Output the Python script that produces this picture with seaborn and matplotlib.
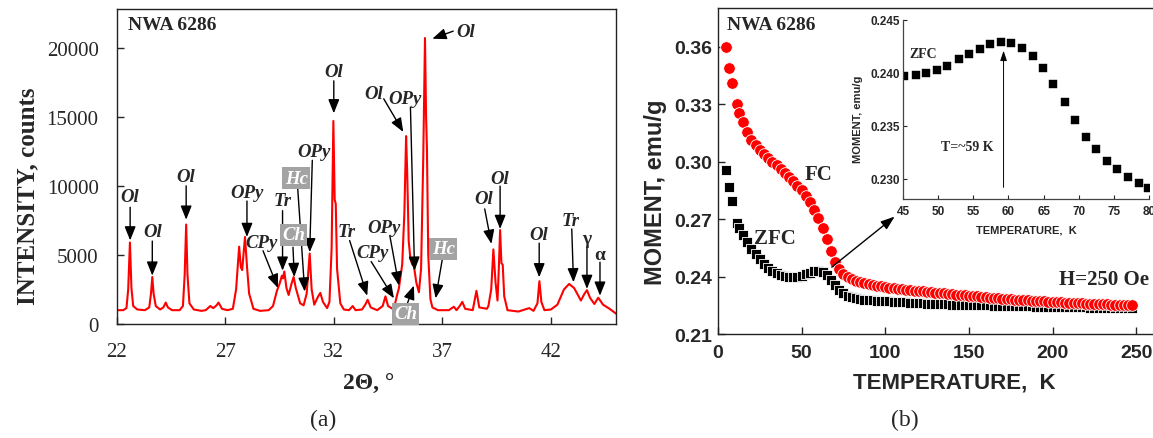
import matplotlib
matplotlib.use("Agg")
import matplotlib.pyplot as plt
import numpy as np
import pandas as pd
import seaborn as sns

# ---------------- data: panel (a) XRD pattern ----------------
two_theta = [
    22.00, 22.30, 22.45, 22.53, 22.61, 22.68, 22.76, 22.95, 23.30, 23.50,
    23.58, 23.64, 23.70, 23.80, 24.00, 24.15, 24.26, 24.36, 24.55, 24.90,
    25.05, 25.13, 25.20, 25.26, 25.35, 25.55, 25.90, 26.10, 26.31, 26.45,
    26.60, 26.69, 26.85, 27.10, 27.35, 27.50, 27.64, 27.72, 27.78, 27.91,
    28.00, 28.10, 28.30, 28.60, 29.00, 29.20, 29.38, 29.50, 29.61, 29.66,
    29.72, 29.82, 29.92, 30.05, 30.15, 30.25, 30.45, 30.61, 30.75, 30.89,
    30.98, 31.10, 31.28, 31.38, 31.50, 31.69, 31.80, 31.90, 31.98, 32.04,
    32.09, 32.15, 32.30, 32.46, 32.70, 32.87, 33.00, 33.30, 33.45, 33.56,
    33.70, 34.00, 34.25, 34.38, 34.50, 34.76, 34.90, 35.00, 35.15, 35.25,
    35.33, 35.38, 35.45, 35.53, 35.62, 35.69, 35.80, 35.92, 36.02, 36.12,
    36.20, 36.25, 36.29, 36.35, 36.45, 36.54, 36.80, 37.30, 37.53, 37.65,
    37.80, 37.92, 38.05, 38.40, 38.57, 38.70, 39.05, 39.12, 39.25, 39.35,
    39.45, 39.54, 39.60, 39.66, 39.72, 39.78, 39.85, 40.00, 40.50, 41.00,
    41.20, 41.38, 41.47, 41.56, 41.70, 42.00, 42.30, 42.60, 42.84, 43.07,
    43.38, 43.55, 43.66, 43.80, 44.00, 44.18, 44.40, 44.70, 45.00,
]
intensity = [
    1000, 1000, 1150, 2500, 5900, 2600, 1300, 1050, 1000, 1200,
    2200, 3400, 2200, 1300, 1050, 1200, 1550, 1200, 1000, 1000,
    1300, 3500, 7200, 3600, 1500, 1050, 950, 1000, 1300, 1150,
    1350, 1550, 1100, 1000, 1100, 2500, 5600, 4100, 3900, 6300,
    4200, 2200, 1100, 950, 1000, 1300, 2400, 2900, 3500, 3300,
    3800, 2600, 2100, 2900, 3400, 2600, 1500, 1350, 2200, 5100,
    2500, 1400, 2000, 2250, 1600, 1150, 1600, 5500, 14700, 9000,
    8700, 4000, 1500, 1050, 1000, 1300, 1000, 1050, 1400, 1750,
    1200, 1000, 1300, 2000, 1300, 1050, 2000, 2600, 4300, 8000,
    13600, 11000, 6000, 4700, 4300, 4200, 3000, 2300, 4000, 12000,
    20700, 15000, 12700, 5000, 1800, 1200, 1000, 1000, 1250, 1000,
    1300, 1600, 1100, 1000, 2400, 1200, 1100, 1300, 2500, 5400,
    3000, 1700, 4000, 6800, 4400, 4300, 2000, 1000, 900, 1150,
    950, 1500, 3100, 1600, 1000, 1050, 1400, 2500, 2900, 2600,
    1700, 2200, 2450, 1900, 1450, 1900, 1400, 1100, 750,
]
xrd_xticks = [22, 27, 32, 37, 42]
xrd_yticks = [0, 5000, 10000, 15000, 20000]

# phase labels: text, label position, arrow start, arrow end, grey box?
xrd_labels = [
    ("Ol",  (22.62, 9200),  (22.62, 8450),  (22.62, 6050), False),
    ("Ol",  (23.64, 6700),  (23.64, 6000),  (23.64, 3500), False),
    ("Ol",  (25.20, 10650), (25.20, 10000), (25.20, 7550), False),
    ("OPy", (28.00, 9550),  (28.00, 8900),  (28.00, 6300), False),
    ("CPy", (28.69, 5920),  (28.74, 5300),  (29.43, 2600), False),
    ("Tr",  (29.64, 8930),  (29.64, 8200),  (29.64, 3860), False),
    ("Hc",  (30.27, 10560), (30.33, 10000), (30.66, 2350), True),
    ("Ch",  (30.14, 6450),  (30.12, 5560),  (30.18, 3400), True),
    ("OPy", (31.10, 12450), (31.01, 11850), (30.89, 5200), False),
    ("Ol",  (32.00, 18250), (32.00, 17600), (32.00, 15250), False),
    ("Ol",  (33.84, 16680), (34.30, 16300), (35.20, 13900), False),
    ("OPy", (35.30, 16350), (35.53, 15700), (35.72, 3860), False),
    ("Ol",  (38.07, 21200), (37.50, 21200), (36.54, 20650), False),
    ("Tr",  (32.61, 6700),  (32.73, 6040),  (33.54, 2050), False),
    ("CPy", (33.77, 5200),  (33.72, 4520),  (34.77, 1860), False),
    ("OPy", (34.30, 7000),  (34.58, 6400),  (35.00, 2780), False),
    ("Ch",  (35.30, 730),   (35.38, 1450),  (35.69, 2780), True),
    ("Hc",  (37.04, 5430),  (37.00, 4710),  (36.69, 1860), True),
    ("Ol",  (38.92, 9060),  (38.95, 8330),  (39.26, 5800), False),
    ("Ol",  (39.66, 10560), (39.66, 9980),  (39.66, 6880), False),
    ("Ol",  (41.46, 6450),  (41.46, 5850),  (41.46, 3380), False),
    ("Tr",  (42.92, 7490),  (42.96, 6880),  (43.04, 3020), False),
    ("γ",   (43.66, 6160),  (43.66, 5560),  (43.66, 2540), False),
    ("α",   (44.26, 5000),  (44.26, 4470),  (44.26, 2050), False),
]

# ---------------- data: panel (b) magnetic moment ----------------
temperature = [
    4.8, 6.8, 8.2, 11.2, 12.5, 15, 17.5, 20, 22.5, 25,
    27.5, 30, 32.5, 35, 37.5, 40, 42.5, 45, 47.5, 50,
    52.5, 55, 57.5, 60, 62.5, 65, 67.5, 70, 72.5, 75,
    77.5, 80, 82.5, 85, 87.5, 90, 92.5, 95, 97.5, 100,
    102.5, 105, 107.5, 110, 112.5, 115, 117.5, 120, 122.5, 125,
    127.5, 130, 132.5, 135, 137.5, 140, 142.5, 145, 147.5, 150,
    152.5, 155, 157.5, 160, 162.5, 165, 167.5, 170, 172.5, 175,
    177.5, 180, 182.5, 185, 187.5, 190, 192.5, 195, 197.5, 200,
    202.5, 205, 207.5, 210, 212.5, 215, 217.5, 220, 222.5, 225,
    227.5, 230, 232.5, 235, 237.5, 240, 242.5, 245, 247.5,
]
moment_fc = [
    0.360, 0.349, 0.341, 0.330, 0.3255, 0.3205, 0.3155, 0.3115, 0.3085, 0.306,
    0.304, 0.302, 0.300, 0.298, 0.296, 0.294, 0.292, 0.2898, 0.2875, 0.285,
    0.282, 0.2787, 0.2748, 0.2705, 0.2655, 0.2597, 0.2535, 0.2477, 0.2437, 0.2414,
    0.2400, 0.2389, 0.2379, 0.2371, 0.2364, 0.2359, 0.2355, 0.2351, 0.2348, 0.2345,
    0.2342, 0.2339, 0.2336, 0.2334, 0.2331, 0.2329, 0.2327, 0.2325, 0.2322, 0.2320,
    0.2318, 0.2316, 0.2314, 0.2312, 0.2310, 0.2308, 0.2306, 0.2304, 0.2302, 0.2300,
    0.2298, 0.2296, 0.2294, 0.2292, 0.2290, 0.2288, 0.2286, 0.2285, 0.2283, 0.2281,
    0.2280, 0.2278, 0.2277, 0.2275, 0.2274, 0.2272, 0.2271, 0.2270, 0.2268, 0.2267,
    0.2266, 0.2265, 0.2264, 0.2263, 0.2262, 0.2261, 0.2260, 0.2259, 0.2258, 0.2257,
    0.2256, 0.2256, 0.2255, 0.2254, 0.2254, 0.2253, 0.2253, 0.2252, 0.2252,
]
moment_zfc = [
    0.2954, 0.2867, 0.2792, 0.2680, 0.2655, 0.2617, 0.2578, 0.2545, 0.2516, 0.2490,
    0.2467, 0.2447, 0.2430, 0.2417, 0.2408, 0.2402, 0.2399, 0.2398, 0.2400, 0.2404,
    0.2411, 0.2420, 0.2428, 0.2430, 0.2423, 0.2406, 0.2381, 0.2354, 0.2330, 0.2313,
    0.2300, 0.2291, 0.2286, 0.2282, 0.2279, 0.2277, 0.2275, 0.2274, 0.2272, 0.2271,
    0.2270, 0.2268, 0.2267, 0.2266, 0.2265, 0.2263, 0.2262, 0.2261, 0.2260, 0.2259,
    0.2258, 0.2257, 0.2257, 0.2256, 0.2255, 0.2254, 0.2254, 0.2253, 0.2252, 0.2252,
    0.2251, 0.2250, 0.2250, 0.2249, 0.2249, 0.2248, 0.2248, 0.2247, 0.2247, 0.2246,
    0.2246, 0.2245, 0.2245, 0.2244, 0.2244, 0.2243, 0.2243, 0.2242, 0.2242, 0.2241,
    0.2241, 0.2241, 0.2240, 0.2240, 0.2240, 0.2239, 0.2239, 0.2239, 0.2238, 0.2238,
    0.2238, 0.2237, 0.2237, 0.2237, 0.2236, 0.2236, 0.2236, 0.2236, 0.2235,
]
mag_xticks = [0, 50, 100, 150, 200, 250]
mag_yticks = [0.21, 0.24, 0.27, 0.30, 0.33, 0.36]

inset_temperature = [
    45.2, 46.8, 48.3, 49.8, 51.3, 52.9, 54.4, 55.9, 57.4, 58.9, 60.3, 61.9,
    63.5, 64.9, 66.4, 68.0, 69.5, 71.0, 72.4, 74.0, 75.5, 77.0, 78.5, 79.9,
]
inset_moment = [
    0.2397, 0.2398, 0.2400, 0.2403, 0.2407, 0.2413, 0.2418, 0.2423, 0.2427, 0.2429, 0.2428, 0.2424,
    0.2416, 0.2405, 0.2390, 0.2373, 0.2356, 0.2340, 0.2328, 0.2317, 0.2309, 0.2302, 0.2296, 0.2291,
]
inset_xticks = [45, 50, 55, 60, 65, 70, 75, 80]
inset_yticks = [0.230, 0.235, 0.240, 0.245]

# ---------------- styling ----------------
sns.set_style("ticks")
plt.rcParams["font.family"] = ["Liberation Serif", "DejaVu Serif"]
plt.rcParams["axes.linewidth"] = 1.0
SERIF = ["Liberation Serif", "DejaVu Serif"]
SANS = ["Liberation Sans", "DejaVu Sans"]

fig = plt.figure(figsize=(11.53, 4.39), dpi=100)
fig.patch.set_facecolor("white")

# ---------------- panel (a) ----------------
axa = fig.add_axes([0.1012, 0.2597, 0.4331, 0.7175])
xrd = pd.DataFrame({"two_theta": two_theta, "intensity": intensity})
sns.lineplot(data=xrd, x="two_theta", y="intensity", ax=axa, color="#ff0000",
             linewidth=1.5, sort=False, estimator=None, errorbar=None)
axa.set_xlim(22, 45)
axa.set_ylim(0, 22800)
axa.set_xticks(xrd_xticks)
axa.set_xticklabels([str(v) for v in xrd_xticks], fontfamily=SERIF, fontsize=15)
axa.set_yticks(xrd_yticks)
axa.set_yticklabels([str(v) for v in xrd_yticks], fontfamily=SERIF, fontsize=15)
axa.tick_params(direction="in", length=5, width=1.0, pad=13,
                top=False, right=False)
for s in axa.spines.values():
    s.set_visible(True)
    s.set_color("#222222")
axa.set_xlabel("2Θ, °", family=SERIF, fontweight="bold", fontsize=17)
axa.xaxis.label.set_va("center")
axa.xaxis.set_label_coords(0.505, -0.19)
axa.set_ylabel("INTENSITY, counts", family=SERIF, fontweight="bold", fontsize=18)
axa.yaxis.label.set_va("center")
axa.yaxis.set_label_coords(-0.178, 0.41)
axa.text(0.022, 0.952, "NWA 6286", transform=axa.transAxes, family=SERIF,
         fontweight="bold", fontsize=14, ha="left", va="center")

for txt, tpos, a0, a1, boxed in xrd_labels:
    greek = txt in ("γ", "α")
    kw = dict(family=SERIF, fontweight="bold", fontsize=14 if greek else 13.5,
              style="normal" if greek else "italic", ha="center", va="center")
    if boxed:
        kw.update(color="white",
                  bbox=dict(boxstyle="square,pad=0.12", fc="#a3a3a3", ec="none"))
    axa.text(tpos[0], tpos[1], txt, zorder=5, **kw)
    axa.annotate("", xy=a1, xytext=a0,
                 arrowprops=dict(arrowstyle="-|>,head_length=0.7,head_width=0.28",
                                 color="black", lw=1.0, shrinkA=0, shrinkB=0,
                                 mutation_scale=12))

# ---------------- panel (b) ----------------
axb = fig.add_axes([0.6227, 0.2369, 0.3773, 0.7426])
mag = pd.DataFrame({"T": temperature, "FC": moment_fc, "ZFC": moment_zfc})
sns.scatterplot(data=mag, x="T", y="ZFC", ax=axb, marker="s", s=50,
                color="black", edgecolor="white", linewidth=0.6, zorder=3)
sns.scatterplot(data=mag, x="T", y="FC", ax=axb, marker="o", s=70,
                color="#ff0000", edgecolor="white", linewidth=0.6, zorder=4)
axb.set_xlim(0, 260)
axb.set_ylim(0.21, 0.3802)
axb.set_xticks(mag_xticks)
axb.set_xticklabels([str(v) for v in mag_xticks], fontfamily=SANS,
                    fontweight="bold", fontsize=14)
axb.set_yticks(mag_yticks)
axb.set_yticklabels([f"{v:.2f}" for v in mag_yticks], fontfamily=SANS,
                    fontweight="bold", fontsize=14)
axb.tick_params(direction="in", length=5, width=1.0, top=False, right=False)
axb.tick_params(axis="y", pad=4)
axb.tick_params(axis="x", pad=7)
for s in axb.spines.values():
    s.set_visible(True)
    s.set_color("#222222")
axb.spines["right"].set_visible(False)
axb.set_xlabel("TEMPERATURE,  K", family=SANS, fontweight="bold", fontsize=16)
axb.xaxis.label.set_va("center")
axb.xaxis.set_label_coords(0.5425, -0.147)
axb.set_ylabel("MOMENT, emu/g", family=SANS, fontweight="bold", fontsize=17)
axb.yaxis.label.set_va("center")
axb.yaxis.set_label_coords(-0.1425, 0.439)
axb.text(0.021, 0.948, "NWA 6286", transform=axb.transAxes, family=SERIF,
         fontweight="bold", fontsize=14, ha="left", va="center")
axb.text(60, 0.2937, "FC", family=SERIF, fontweight="bold", fontsize=15,
         ha="center", va="center")
axb.text(34, 0.2600, "ZFC", family=SERIF, fontweight="bold", fontsize=15,
         ha="center", va="center")
axb.text(230.5, 0.2388, "H=250 Oe", family=SERIF, fontweight="bold", fontsize=15,
         ha="center", va="center")
axb.annotate("", xy=(105.6, 0.2713), xytext=(68, 0.2449),
             arrowprops=dict(arrowstyle="-|>,head_length=0.7,head_width=0.25",
                             color="black", lw=1.0, shrinkA=0, shrinkB=0,
                             mutation_scale=12), zorder=6)

# ---------------- inset ----------------
axi = fig.add_axes([0.7832, 0.5444, 0.2134, 0.4078])
axi.patch.set_alpha(0)
ins = pd.DataFrame({"T": inset_temperature, "M": inset_moment})
sns.scatterplot(data=ins, x="T", y="M", ax=axi, marker="s", s=34,
                color="black", edgecolor="black", linewidth=0.3)
axi.set_xlim(45, 80)
axi.set_ylim(0.2281, 0.245)
axi.set_xticks(inset_xticks)
axi.set_xticklabels([str(v) for v in inset_xticks], fontfamily=SANS,
                    fontweight="bold", fontsize=8.5)
axi.set_yticks(inset_yticks)
axi.set_yticklabels([f"{v:.3f}" for v in inset_yticks], fontfamily=SANS,
                    fontweight="bold", fontsize=8.5)
axi.tick_params(direction="in", length=3, width=0.8, pad=2)
axi.tick_params(axis="x", pad=4)
axi.spines["top"].set_visible(False)
axi.spines["right"].set_visible(False)
for s in ("left", "bottom"):
    axi.spines[s].set_color("#444444")
    axi.spines[s].set_linewidth(0.9)
axi.set_xlabel("TEMPERATURE,  K", family=SANS, fontweight="bold", fontsize=8)
axi.xaxis.label.set_va("center")
axi.xaxis.set_label_coords(0.5, -0.17)
axi.set_ylabel("MOMENT, emu/g", family=SANS, fontweight="bold", fontsize=8)
axi.yaxis.label.set_va("center")
axi.yaxis.set_label_coords(-0.183, 0.45)
axi.text(47.8, 0.2418, "ZFC", family=SERIF, fontweight="bold", fontsize=10,
         ha="center", va="center")
axi.text(54.2, 0.2331, "T=~59 K", family=SERIF, fontweight="bold", fontsize=10,
         ha="center", va="center")
axi.annotate("", xy=(59.3, 0.2421), xytext=(59.3, 0.2292),
             arrowprops=dict(arrowstyle="-|>,head_length=0.6,head_width=0.2",
                             color="black", lw=0.7, shrinkA=0, shrinkB=0,
                             mutation_scale=10))

# ---------------- panel captions ----------------
fig.text(323 / 1153, 1 - 420 / 439, "(a)", family=SERIF, fontsize=17,
         ha="center", va="center")
fig.text(905 / 1153, 1 - 420 / 439, "(b)", family=SERIF, fontsize=17,
         ha="center", va="center")

fig.savefig("out.png", dpi=100, facecolor="white")
